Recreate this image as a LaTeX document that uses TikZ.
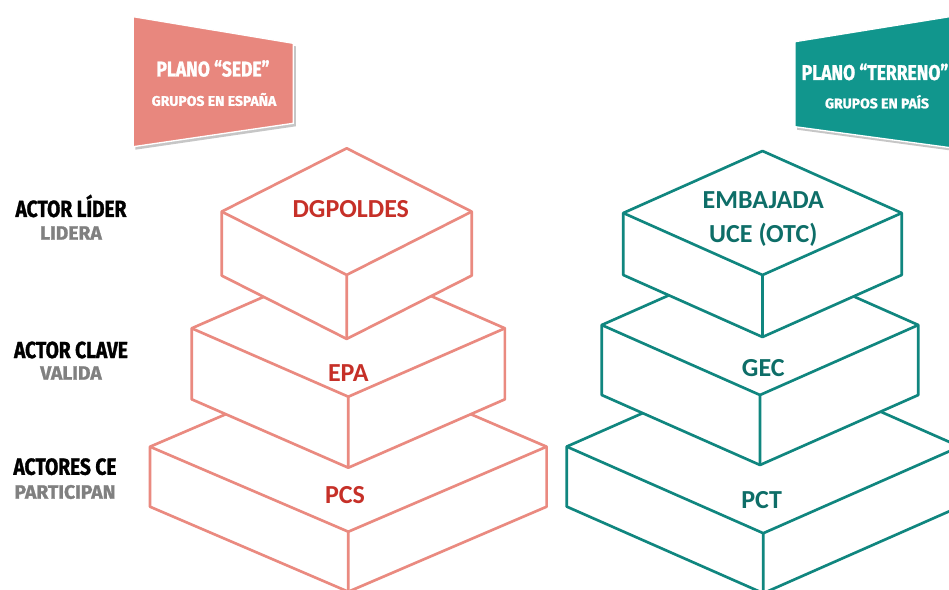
\documentclass[tikz,border=0pt]{standalone}
\usepackage{fontspec}
\setmainfont{Carlito}
\newfontfamily\condfont[FakeStretch=0.82,BoldFeatures={FakeBold=1.2}]{Fira Sans}
\newfontfamily\widefont[BoldFeatures={FakeBold=1.2}]{Fira Sans}
\definecolor{salmonline}{RGB}{234,138,128}
\definecolor{salmonfill}{RGB}{232,135,126}
\definecolor{redtext}{RGB}{198,48,40}
\definecolor{tealline}{RGB}{16,134,127}
\definecolor{tealfill}{RGB}{17,150,141}
\definecolor{tealtext}{RGB}{14,110,104}
\definecolor{greytext}{RGB}{128,128,128}
\newcommand{\isobox}[6]{%
  \filldraw[boxline,draw=#1,fill=white] (#2,#3) -- ++(#4,#5) -- ++(0,#6) -- ++(-#4,#5) -- ++(-#4,-#5) -- ++(0,-#6) -- cycle;
  \draw[boxline,draw=#1] (#2-#4,#3+#5) -- ++(#4,#5) -- ++(#4,-#5) (#2,#3+2*#5) -- ++(0,#6);
}
\tikzset{
  boxline/.style={line width=2pt,line join=round},
  boxtext/.style={font=\bfseries\fontsize{19.5}{21}\selectfont,inner sep=0pt,align=center},
  roletext/.style={font=\condfont\bfseries\fontsize{17.5}{18}\selectfont,text=black,inner sep=0pt},
  roleverb/.style={font=\widefont\bfseries\fontsize{14.5}{15}\selectfont,text=greytext,inner sep=0pt},
  bannertitle/.style={font=\condfont\bfseries\fontsize{16}{17}\selectfont,text=white,inner sep=0pt},
  bannersub/.style={font=\widefont\bfseries\fontsize{10.5}{12}\selectfont,text=white,inner sep=0pt},
}
\begin{document}
\begin{tikzpicture}[x=0.75pt,y=-0.75pt]
\useasboundingbox (0,0) rectangle (949,589);
\clip (0,0) rectangle (949,589);
\fill[white] (0,0) rectangle (949,589);
% banners
\fill[gray!45] (135.3,19.7) -- (295.8,46.3) -- (295.8,126.3) -- (135.3,149.7) -- cycle;
\filldraw[fill=salmonfill,draw=white,line width=1pt] (133.3,16.7) -- (293.3,43.3) -- (293.3,123.3) -- (133.3,146.7) -- cycle;
\fill[gray!45] (797,44.7) -- (962,20) -- (962,152) -- (797,129.7) -- cycle;
\filldraw[fill=tealfill,draw=white,line width=1pt] (795,41.7) -- (960,15) -- (960,149) -- (795,126.7) -- cycle;
\node[bannertitle] (sedeT) at (213,68.5) {PLANO “SEDE”};
\node[bannersub] (sedeS) at (214,99.5) {GRUPOS EN ESPAÑA};
\node[bannertitle] (terrT) at (875,72) {PLANO “TERRENO”};
\node[bannersub] (terrS) at (877,101.7) {GRUPOS EN PAÍS};
% left labels
\node[roletext] (r1) at (71,206) {ACTOR LÍDER};
\node[roleverb] (v1) at (71,233) {LIDERA};
\node[roletext] (r2) at (71,350) {ACTOR CLAVE};
\node[roleverb] (v2) at (71,373) {VALIDA};
\node[roletext] (r3) at (65,466.7) {ACTORES CE};
\node[roleverb] (v3) at (65,492) {PARTICIPAN};
% left pyramid
\isobox{salmonline}{348.3}{361.7}{198.3}{85}{60}
\isobox{salmonline}{348.3}{259.9}{156.6}{68.4}{71}
\isobox{salmonline}{346.7}{148.3}{125}{63.3}{64}
\node[boxtext,text=redtext] (dg) at (350.8,208.7) {DGPOLDES};
\node[boxtext,text=redtext] (epa) at (348.3,373.3) {EPA};
\node[boxtext,text=redtext] (pcs) at (345,495) {PCS};
% right pyramid
\isobox{tealline}{763.3}{360}{196.6}{86.6}{60}
\isobox{tealline}{760}{255}{158.3}{70}{70}
\isobox{tealline}{762.5}{151}{139.2}{62}{62}
\node[boxtext,text=tealtext] (emb) at (763.3,200) {EMBAJADA};
\node[boxtext,text=tealtext] (uce) at (763.3,235) {UCE (OTC)};
\node[boxtext,text=tealtext] (gec) at (763.3,368.3) {GEC};
\node[boxtext,text=tealtext] (pct) at (761.7,500) {PCT};
\end{tikzpicture}
\end{document}
